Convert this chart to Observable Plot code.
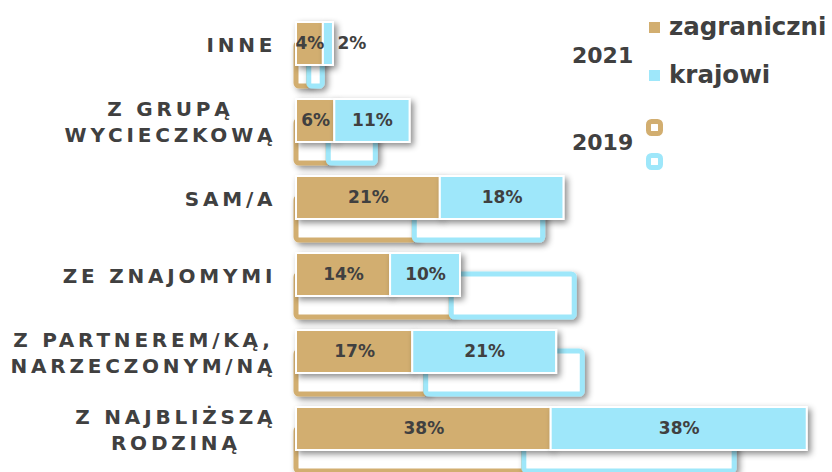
<!DOCTYPE html>
<html><head><meta charset="utf-8">
<script src="https://cdn.jsdelivr.net/npm/d3@7"></script>
<script src="https://cdn.jsdelivr.net/npm/@observablehq/plot@0.6"></script>
<style>
body{margin:0;background:#fff;}
#wrap{position:relative;width:832px;height:472px;overflow:hidden;}
</style></head><body><div id="wrap"></div>
<script>
const categories = ["INNE","Z GRUPĄ\nWYCIECZKOWĄ","SAM/A","ZE ZNAJOMYMI","Z PARTNEREM/KĄ,\nNARZECZONYM/NĄ","Z NAJBLIŻSZĄ\nRODZINĄ"];
const seriesNames = ["zagraniczni","krajowi"];
const years = ["2021","2019"];
const foreign2021 = [4.0, 5.7, 21.4, 14.0, 17.3, 37.9];
const domestic2021 = [1.5, 11.2, 18.4, 10.4, 21.4, 38.1];
const foreign2019 = [1.9, 4.8, 17.6, 23.1, 19.3, 33.9];
const domestic2019 = [2.0, 7.0, 19.1, 18.3, 23.3, 31.3];
const colors = ["#D2AE70","#9EE7FA"];
const textColor = "#404040";
const font = "'DejaVu Sans', sans-serif";

function segs(a, b, year) {
  return categories.flatMap((c, i) => [
    {cat: c, type: seriesNames[0], year, v: a[i], x1: 0, x2: a[i]},
    {cat: c, type: seriesNames[1], year, v: b[i], x1: a[i], x2: a[i] + b[i]}
  ]);
}
const s2021 = segs(foreign2021, domestic2021, years[0]);
const s2019 = segs(foreign2019, domestic2019, years[1]);
const pct = d => Math.round(d.v) + "%";

const chart = Plot.plot({
  width: 832, height: 472,
  marginLeft: 296, marginRight: 0, marginTop: 0, marginBottom: 0,
  style: {fontFamily: font, background: "white"},
  x: {domain: [0, 79.76], axis: null},
  y: {domain: categories, range: [20, 451], paddingInner: 0.447, paddingOuter: 0, axis: null},
  color: {domain: seriesNames, range: colors},
  marks: [
    Plot.barX(s2019, {y: "cat", x1: "x1", x2: "x2", fill: "white", stroke: "type", strokeWidth: 5, rx: 3, dy: 21}),
    Plot.barX(s2021, {y: "cat", x1: "x1", x2: "x2", fill: "type", stroke: "white", strokeWidth: 2}),
    Plot.text(s2021.filter(d => d.v >= 3), {y: "cat", x: d => (d.x1 + d.x2) / 2, text: pct,
      fill: textColor, fontSize: 17, fontWeight: 700}),
    Plot.text(s2021.filter(d => d.v < 3), {y: "cat", x: "x2", text: pct, textAnchor: "start", dx: 4,
      fill: textColor, fontSize: 17, fontWeight: 700}),
    Plot.text(categories, {y: d => d, x: () => 0, text: d => d, textAnchor: "end", dx: -20.2, lineHeight: 1.28,
      fill: textColor, fontSize: 20, fontWeight: 700, fontFamily: font})
  ]
});

const svg = d3.select(chart);
const defs = svg.insert("defs", ":first-child");
const f = defs.append("filter").attr("id", "sh").attr("filterUnits", "userSpaceOnUse")
  .attr("x", 0).attr("y", 0).attr("width", 832).attr("height", 500);
f.append("feDropShadow").attr("dx", 3).attr("dy", 3).attr("stdDeviation", 3.3)
  .attr("flood-color", "#000").attr("flood-opacity", 0.45);
svg.selectAll('g[aria-label="bar"] rect').attr("filter", "url(#sh)");
const textGroups = svg.selectAll('g[aria-label="text"]').nodes();
const catG = d3.select(textGroups[textGroups.length - 1]).style("letter-spacing", "3.8px");

// legend
const lg = svg.append("g").attr("fill", textColor).attr("text-anchor", "start")
  .style("font-family", font).style("font-weight", 700);
lg.append("text").attr("x", 572).attr("y", 63).style("font-size", "22px").text(years[0]);
lg.append("text").attr("x", 572).attr("y", 150).style("font-size", "22px").text(years[1]);
[[22, 35], [70, 83]].forEach(([ry, ty], i) => {
  lg.append("rect").attr("x", 649).attr("y", ry).attr("width", 11).attr("height", 11).attr("fill", colors[i]);
  lg.append("text").attr("x", 669).attr("y", ty).style("font-size", "24.5px").text(seriesNames[i]);
});
[121.5, 155.5].forEach((ry, i) => {
  lg.append("rect").attr("x", 648.5).attr("y", ry).attr("width", 12).attr("height", 12).attr("rx", 3)
    .attr("fill", "white").attr("stroke", colors[i]).attr("stroke-width", 5);
});

document.getElementById("wrap").appendChild(chart);

// center the lines of multi-line category labels within their right-aligned block
catG.selectAll("text").each(function () {
  const spans = d3.select(this).selectAll("tspan").nodes();
  if (spans.length < 2) return;
  const ws = spans.map(s => s.getComputedTextLength());
  const W = Math.max(...ws);
  spans.forEach((s, i) => s.setAttribute("x", -(W - ws[i]) / 2));
});
</script></body></html>
